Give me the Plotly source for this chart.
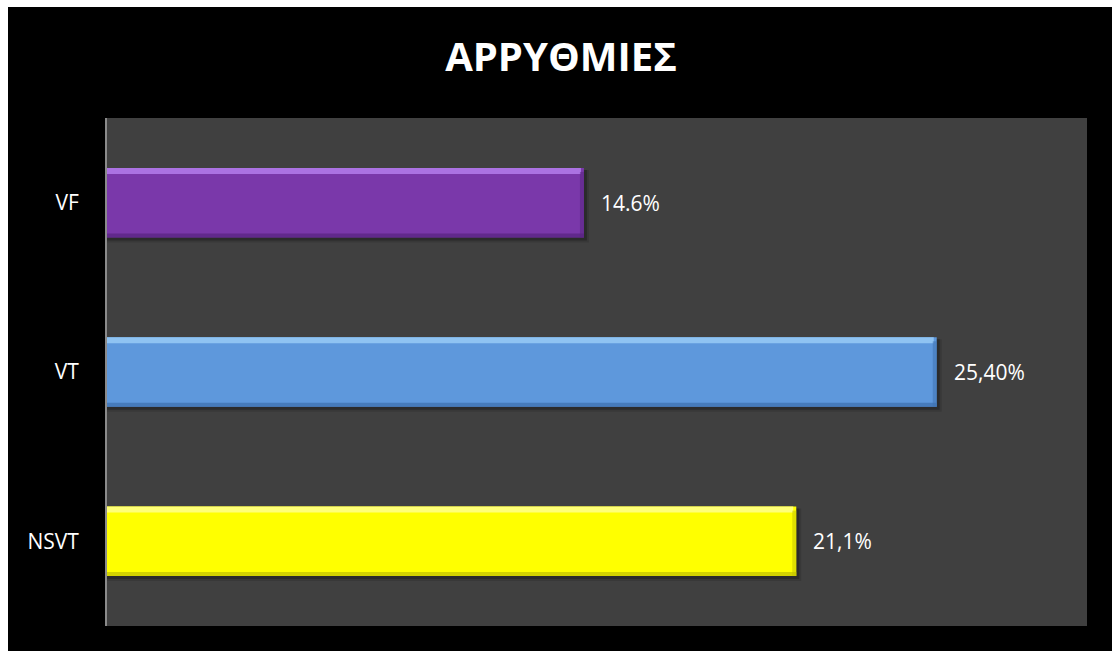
import plotly.graph_objects as go

# Arrhythmia categories, top to bottom
categories = ["VF", "VT", "NSVT"]
values = [14.6, 25.4, 21.1]
value_labels = ["14.6%", "25,40%", "21,1%"]

title_text = "ΑΡΡΥΘΜΙΕΣ"

# fill, top highlight, bottom edge
bar_colors = ["#7a38aa", "#5e98dc", "#ffff00"]
top_colors = ["#ab72e2", "#8fc3f2", "#ffff78"]
edge_colors = ["#5a2482", "#3f72b0", "#c4c400"]

FONT = "Open Sans"
W, H = 1112, 651
L, R, T, B = 107, 25, 118, 25
PW, PH = W - L - R, H - T - B

BAR_W = 0.41          # bar thickness in category units
HALF = BAR_W / 2
PX_Y = PH / len(categories)   # pixels per category unit
X_MAX = 30.0
PX_X = PW / X_MAX

fig = go.Figure()
fig.add_trace(go.Bar(
    y=categories, x=values, orientation="h",
    width=BAR_W,
    marker=dict(color=bar_colors, line=dict(width=0)),
    hoverinfo="skip",
))

shapes = []
for i, v in enumerate(values):
    # soft drop shadow under and right of each bar
    for k, alpha in ((5, 0.12), (3, 0.22)):
        shapes.append(dict(
            type="rect", xref="x", yref="y", layer="below",
            x0=0, x1=v + k / PX_X,
            y0=i - HALF + 2 / PX_Y, y1=i + HALF + k / PX_Y,
            fillcolor=f"rgba(0,0,0,{alpha})", line=dict(width=0),
        ))
    # top bevel highlight
    shapes.append(dict(
        type="rect", xref="x", yref="y", layer="above",
        x0=0, x1=v - 3 / PX_X,
        y0=i - HALF, y1=i - HALF + 6 / PX_Y,
        fillcolor=top_colors[i], line=dict(width=0),
    ))
    # bottom bevel edge
    shapes.append(dict(
        type="rect", xref="x", yref="y", layer="above",
        x0=0, x1=v,
        y0=i + HALF - 4 / PX_Y, y1=i + HALF,
        fillcolor=edge_colors[i], line=dict(width=0), opacity=0.75,
    ))
    # right bevel edge
    shapes.append(dict(
        type="rect", xref="x", yref="y", layer="above",
        x0=v - 4 / PX_X, x1=v,
        y0=i - HALF + 4 / PX_Y, y1=i + HALF,
        fillcolor=edge_colors[i], line=dict(width=0), opacity=0.55,
    ))

# white margin strips along the left and top edges of the page
shapes.append(dict(type="rect", xref="paper", yref="paper", layer="above",
                   x0=-L / PW, x1=(8 - L) / PW, y0=-B / PH, y1=1 + T / PH,
                   fillcolor="white", line=dict(width=0)))
shapes.append(dict(type="rect", xref="paper", yref="paper", layer="above",
                   x0=-L / PW, x1=1 + R / PW, y0=1 + (T - 7) / PH, y1=1 + T / PH,
                   fillcolor="white", line=dict(width=0)))

annotations = []
for i, (v, lab) in enumerate(zip(values, value_labels)):
    annotations.append(dict(
        x=v, y=i, xref="x", yref="y", text=lab, showarrow=False,
        xanchor="left", yanchor="middle", xshift=15, yshift=0,
        font=dict(family=FONT, size=21, color="white"),
    ))

fig.update_layout(
    width=W, height=H,
    margin=dict(l=L, r=R, t=T, b=B, pad=0),
    paper_bgcolor="black",
    plot_bgcolor="#404040",
    showlegend=False,
    bargap=0.59,
    title=dict(
        text=f"<b>{title_text}</b>",
        x=561 / W, xref="container", xanchor="center",
        y=1 - 57 / H, yref="container", yanchor="middle",
        font=dict(family=FONT, size=40, color="white"),
    ),
    xaxis=dict(range=[0, X_MAX], visible=False, showgrid=False, zeroline=False),
    yaxis=dict(
        range=[len(categories) - 0.5, -0.5],
        showgrid=False, zeroline=False,
        showline=True, linecolor="#8a8a8a", linewidth=2,
        ticks="", ticklabelstandoff=22,
        tickfont=dict(family=FONT, size=21, color="white"),
    ),
    shapes=shapes,
    annotations=annotations,
)

fig.write_html("out.html")
